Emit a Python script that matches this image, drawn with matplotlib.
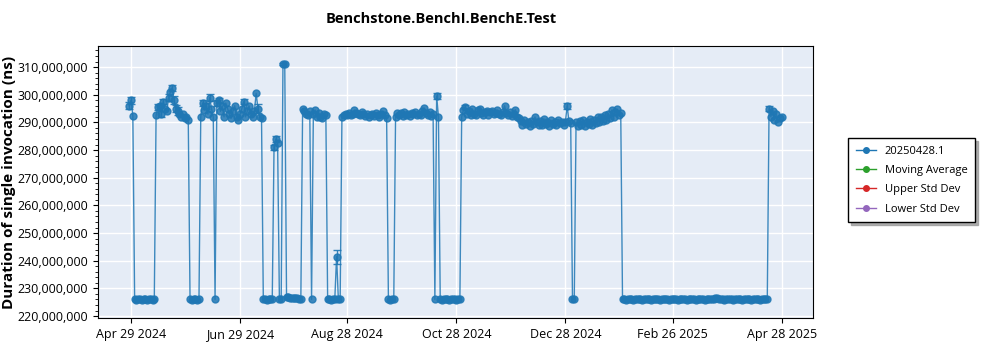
import matplotlib
matplotlib.use("Agg")
import matplotlib.pyplot as plt
import matplotlib.dates as mdates
import matplotlib.ticker as mticker
from matplotlib.lines import Line2D
import numpy as np
import pandas as pd

plt.rcParams['font.family'] = ['Open Sans', 'DejaVu Sans']

# Datos (duración en millones de ns), un punto por día dentro de cada tramo
seg_starts = ["2024-04-28", "2024-05-01", "2024-05-13", "2024-06-01", "2024-06-07",
              "2024-06-15", "2024-06-16", "2024-07-12", "2024-07-18", "2024-07-21",
              "2024-07-23", "2024-07-25", "2024-08-03", "2024-08-17", "2024-08-25",
              "2024-09-20", "2024-09-24", "2024-10-16", "2024-10-19", "2024-10-31",
              "2024-12-03", "2025-01-01", "2025-01-03", "2025-01-29", "2025-04-21"]

seg_values = [
    [296.0, 298.0, 292.3],
    [226.0, 225.9, 226.1, 226.0, 225.8, 226.0, 226.1, 225.9, 226.0, 226.0, 225.9, 226.1],
    [292.5, 295.5, 296.0, 293.0, 297.5, 295.0, 294.0, 299.0, 301.0, 302.5, 298.0, 295.0,
     294.0, 293.0, 292.0, 293.0, 291.5, 292.0, 291.0],
    [226.0, 225.9, 226.0, 226.1, 225.9, 226.0],
    [292.0, 297.0, 294.5, 296.0, 293.0, 299.0, 295.0, 292.0],
    [226.0],
    [297.0, 298.0, 294.0, 296.0, 292.0, 297.0, 295.0, 293.0, 291.5, 294.0, 296.0, 292.0,
     291.0, 293.0, 295.0, 297.5, 292.0, 294.0, 296.0, 293.0, 292.0, 294.0, 300.5, 295.0,
     292.0, 291.5],
    [226.0, 226.0, 225.9, 226.0, 226.1, 226.0],
    [281.0, 284.0, 282.5],
    [226.0, 226.1],
    [311.2, 311.0],
    [226.9, 227.0, 226.7, 226.6, 226.5, 226.5, 226.4, 226.3, 226.2],
    [295.0, 294.0, 293.0, 292.5, 294.0, 226.0, 293.0, 294.5, 292.0, 293.5, 292.0, 291.5,
     293.0, 292.5],
    [226.0, 226.0, 225.9, 226.0, 226.1, 241.5, 226.0, 226.0],
    [292.0, 292.5, 293.0, 292.8, 293.5, 292.6, 293.2, 294.5, 293.4, 293.0, 292.7, 293.6,
     292.9, 292.4, 293.0, 291.8, 292.6, 293.1, 292.2, 293.4, 292.8, 292.0, 293.2, 294.0,
     292.5, 291.5],
    [226.0, 225.9, 226.1, 226.0],
    [292.0, 293.5, 292.8, 293.3, 292.4, 293.9, 292.6, 293.1, 292.2, 293.5, 292.9, 293.7,
     292.5, 293.2, 292.6, 294.0, 295.2, 293.3, 292.7, 293.8, 292.4, 293.0],
    [226.0, 299.5, 292.0],
    [226.0, 225.9, 226.0, 226.1, 226.0, 225.9, 226.0, 226.0, 226.1, 225.9, 226.0, 226.0],
    [292.0, 294.5, 295.5, 293.0, 294.0, 292.5, 294.8, 293.2, 292.6, 294.6, 295.0, 293.4,
     292.8, 293.9, 294.3, 292.5, 293.6, 294.1, 292.9, 293.5, 294.4, 293.0, 292.7, 293.8,
     296.0, 293.3, 292.6, 293.9, 292.4, 293.1, 294.6, 292.0, 291.5],
    [290.5, 289.0, 291.0, 289.5, 290.2, 288.8, 290.6, 289.3, 292.0, 290.0, 289.1, 290.4,
     288.9, 291.3, 289.6, 290.1, 288.7, 290.8, 289.4, 290.2, 289.0, 291.0, 289.8, 290.3,
     289.2, 290.0, 296.0, 290.5, 289.8],
    [226.0, 226.1],
    [290.0, 288.8, 290.5, 289.2, 291.0, 288.6, 290.2, 289.5, 291.3, 289.0, 290.8, 289.9,
     291.8, 290.3, 292.0, 290.6, 292.5, 291.0, 293.2, 291.5, 294.5, 292.0, 293.8, 294.8,
     292.5, 293.5],
    [226.0, 226.1, 225.9, 226.0, 226.0, 226.1, 225.9, 226.0, 226.0, 226.1, 226.0, 225.9,
     226.0, 226.1, 226.0, 226.0, 225.9, 226.0, 226.1, 226.0, 226.0, 225.9, 226.0, 226.1,
     226.0, 226.0, 225.9, 226.1, 226.0, 226.0, 226.1, 225.9, 226.0, 226.0, 226.0, 226.1,
     225.9, 226.0, 226.0, 226.1, 226.0, 225.9, 226.0, 226.0, 226.1, 226.0, 225.9, 226.0,
     226.1, 226.0, 226.0, 226.2, 226.4, 226.6, 226.3, 226.1, 226.0, 225.9, 226.0, 226.1,
     226.0, 226.0, 225.9, 226.0, 226.1, 226.0, 226.0, 225.9, 226.0, 226.1, 226.0, 226.0,
     225.9, 226.0, 226.1, 226.0, 226.0, 225.9, 226.0, 226.1, 226.0, 226.0],
    [295.0, 292.0, 294.3, 291.0, 293.0, 290.0, 291.5, 292.0],
]

# Barras de error visibles (millones de ns)
err_dates = ["2024-04-28", "2024-04-29", "2024-05-14", "2024-05-16", "2024-05-17",
             "2024-05-20", "2024-05-22", "2024-05-23", "2024-05-24", "2024-05-25",
             "2024-06-08", "2024-06-10", "2024-06-12", "2024-06-16", "2024-06-17",
             "2024-07-01", "2024-07-09", "2024-07-18", "2024-07-19", "2024-07-23",
             "2024-08-22", "2024-10-17", "2024-11-02", "2024-12-29", "2025-04-21"]
err_values = [1.3, 1.3, 1.0, 1.2, 1.0, 1.2, 1.0, 1.5, 1.2, 1.5,
              1.2, 1.0, 1.2, 1.0, 1.0, 1.0, 1.5, 1.0, 1.2, 0.4,
              2.5, 1.2, 0.8, 1.0, 0.8]

tick_dates = ["2024-04-29", "2024-06-29", "2024-08-28", "2024-10-28",
              "2024-12-28", "2025-02-26", "2025-04-28"]
legend_labels = ["20250428.1", "Moving Average", "Upper Std Dev", "Lower Std Dev"]
legend_colors = ["#1f77b4", "#2ca02c", "#d62728", "#9467bd"]

# Serie completa
fechas = []
valores = []
for inicio, vals in zip(seg_starts, seg_values):
    fechas.extend(pd.date_range(inicio, periods=len(vals), freq="D"))
    valores.extend(vals)
fechas = pd.DatetimeIndex(fechas)
valores = np.array(valores) * 1e6

serie = pd.Series(valores, index=fechas)
err_idx = pd.DatetimeIndex(err_dates)
err_y = serie.loc[err_idx].values
err_v = np.array(err_values) * 1e6

# Gráfico
fig = plt.figure(figsize=(10, 3.5), dpi=100)
ax = fig.add_axes([0.098, 0.0914, 0.715, 0.777])
ax.set_facecolor("#e5ecf6")

ax.plot(fechas, valores, color="#1f77b4", lw=1, marker="o", markersize=5,
        alpha=0.85, zorder=3)
ax.errorbar(err_idx, err_y, yerr=err_v, fmt="none", ecolor="#1f77b4",
            elinewidth=1, capsize=3, alpha=0.9, zorder=3)

ax.grid(True, color="white", lw=1)
ax.set_axisbelow(True)
for s in ax.spines.values():
    s.set_color("black")

ax.set_xlim(pd.Timestamp("2024-04-10 12:00"), pd.Timestamp("2025-05-15 14:00"))
ax.set_ylim(219.3e6, 317.6e6)
ax.xaxis.set_major_locator(mticker.FixedLocator(mdates.date2num(pd.DatetimeIndex(tick_dates))))
ax.xaxis.set_major_formatter(mdates.DateFormatter("%b %d %Y"))
ax.yaxis.set_major_locator(mticker.MultipleLocator(10e6))
ax.yaxis.set_minor_locator(mticker.MultipleLocator(2e6))
ax.yaxis.set_major_formatter(mticker.FuncFormatter(lambda v, p: f"{v:,.0f}"))
ax.tick_params(labelsize=9, colors="black")

ax.set_ylabel("Duration of single invocation (ns)", fontsize=11, fontweight="bold")
ax.yaxis.set_label_coords(-0.115, 0.5)
fig.text(0.441, 0.945, "Benchstone.BenchI.BenchE.Test", ha="center", va="center",
         fontsize=10.5, fontweight="bold")

handles = [Line2D([], [], color=c, lw=1, marker="o", markersize=4) for c in legend_colors]
leg = fig.legend(handles, legend_labels, loc="upper left", bbox_to_anchor=(0.848, 0.606),
                 fontsize=8, frameon=True, fancybox=False,
                 shadow={"color": "#9a9a9a", "alpha": 0.8},
                 handlelength=1.8, borderpad=0.7, labelspacing=0.75, borderaxespad=0)
leg.get_frame().set_edgecolor("black")

fig.savefig("out.png", dpi=100)
